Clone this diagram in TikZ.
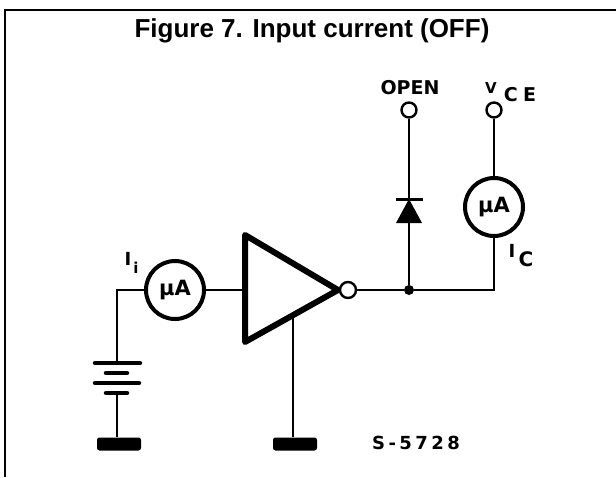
\documentclass[tikz,border=0pt]{standalone}
\usepackage{fontspec}
\setmainfont{Liberation Sans}
\newfontfamily\lblfont{DejaVu Sans}
\begin{document}
\begin{tikzpicture}[x=1pt,y=-1pt,
  wire/.style={line width=2.8pt},
  meter/.style={circle, draw, line width=4pt, minimum size=58pt, inner sep=0pt},
  term/.style={circle, draw, line width=2.4pt, minimum size=15pt, inner sep=0pt, fill=white},
  plate/.style={line width=4.5pt, line cap=round},
  gnd/.style={rectangle, fill, rounded corners=2.5pt, minimum width=44pt, minimum height=13pt, inner sep=0pt},
  lbl/.style={inner sep=0pt}]
\useasboundingbox (0,0) rectangle (616,477);
% frame
\coordinate (fb) at (5,477);
\coordinate (ftl) at (5,10);
\coordinate (ftr) at (616,10);
\draw[line width=2.6pt] (fb) -- (ftl) -- (ftr);
% title
\node[anchor=base, inner sep=0pt, font=\bfseries\fontsize{26}{26}\selectfont] (title) at (312,37) {Figure 7. Input current (OFF)};
% meters and terminals
\node[meter, font=\lblfont\bfseries\fontsize{21}{21}\selectfont] (m1) at (175,290) {μA};
\node[meter, font=\lblfont\bfseries\fontsize{21}{21}\selectfont] (m2) at (494,207) {μA};
\node[term] (open) at (409,110) {};
\node[term] (vce) at (494,110) {};
% buffer triangle
\coordinate (tA) at (245,235);
\coordinate (tB) at (338,290);
\coordinate (tC) at (245,342);
\coordinate (tin) at (245,290);
\coordinate (tg) at (293,315);
\draw[line width=6pt, line join=round] (tA) -- (tB) -- (tC) -- cycle;
\node[term, line width=2.4pt, minimum size=16pt] (bub) at (348,290) {};
% junction
\node[circle, fill, inner sep=0pt, minimum size=10pt] (j) at (409,290) {};
\coordinate (c2) at (494,290);
% input side
\coordinate (c1) at (117,290);
\coordinate (bt) at (117,363);
\coordinate (bb) at (117,393);
\node[gnd] (g1) at (119,444) {};
\node[gnd] (g2) at (295,444) {};
\draw[wire] (m1) -- (c1) -- (bt);
\draw[wire] (m1) -- (tin);
\draw[plate] (95,363) -- (140,363);
\draw[plate] (106,373) -- (127,373);
\draw[plate] (95,383) -- (139,383);
\draw[plate] (106,393) -- (127,393);
\draw[wire] (bb) -- (bb |- g1.north);
\draw[wire] (tg) -- (tg |- g2.north);
% output side
\draw[wire] (bub) -- (j) -- (c2) -- (m2);
\draw[wire] (open) -- (j);
\draw[wire] (vce) -- (m2);
% diode
\coordinate (dk) at (409,199);
\draw[line width=3pt] (396,199) -- (423,199);
\fill (dk) -- (422,223) -- (396,223) -- cycle;
% labels
\node[lbl, font=\lblfont\bfseries\fontsize{19}{19}\selectfont] (lopen) at (410,88) {OPEN};
\node[lbl, font=\lblfont\bfseries\fontsize{15}{15}\selectfont] (lv) at (491,88) {V};
\node[lbl, font=\lblfont\bfseries\fontsize{19}{19}\selectfont\addfontfeatures{LetterSpace=28}] (lce) at (520,95) {CE};
\node[lbl, font=\lblfont\bfseries\fontsize{18}{18}\selectfont] (li) at (128,259) {I};
\node[lbl, font=\lblfont\bfseries\fontsize{15}{15}\selectfont] (lii) at (136,268) {i};
\node[lbl, font=\lblfont\bfseries\fontsize{18}{18}\selectfont] (lic) at (512,251) {I};
\node[lbl, font=\lblfont\bfseries\fontsize{20}{20}\selectfont] (lcc) at (526,259) {C};
\node[lbl, font=\lblfont\bfseries\fontsize{18}{18}\selectfont\addfontfeatures{LetterSpace=19}] (lnum) at (416,443) {S-5728};
\end{tikzpicture}
\end{document}
